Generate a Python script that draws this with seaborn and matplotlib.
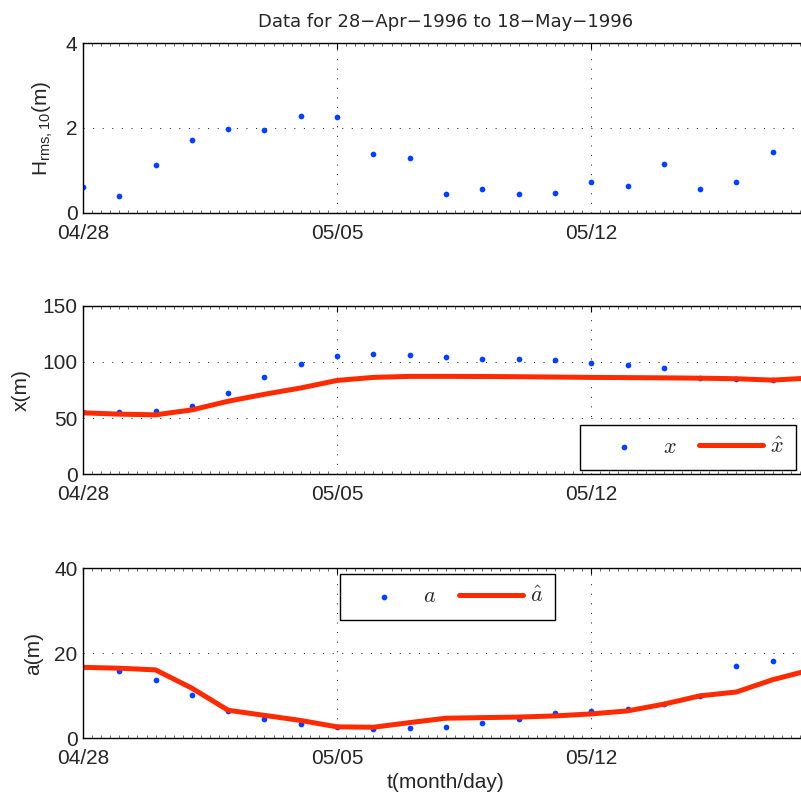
import numpy as np
import pandas as pd
import seaborn as sns
import matplotlib.pyplot as plt
import matplotlib.dates as mdates

# daily samples, 28-Apr-1996 onwards (estimate line runs one day further)
t_obs = pd.date_range('1996-04-28', periods=20, freq='D')
t_est = pd.date_range('1996-04-28', periods=21, freq='D')

hrms = [0.61, 0.39, 1.12, 1.72, 1.98, 1.95, 2.29, 2.25, 1.39, 1.30,
        0.43, 0.57, 0.45, 0.47, 0.72, 0.62, 1.14, 0.56, 0.73, 1.43]

x_obs = [55.0, 55.0, 55.9, 61.2, 72.1, 86.2, 98.3, 105.6, 107.1, 105.9,
         104.5, 103.0, 102.7, 101.5, 99.2, 97.1, 94.2, 85.5, 85.0, 83.8]
x_hat = [54.7, 53.5, 52.9, 57.3, 65.0, 71.2, 76.8, 83.5, 86.2, 87.1,
         87.1, 87.0, 86.8, 86.5, 86.2, 86.0, 85.8, 85.5, 85.0, 83.8, 85.6]

a_obs = [16.7, 15.9, 13.7, 10.1, 6.5, 4.5, 3.4, 2.6, 2.2, 2.35,
         2.67, 3.5, 4.6, 6.0, 6.5, 6.8, 8.0, 10.0, 17.1, 18.1]
a_hat = [16.7, 16.5, 16.1, 11.8, 6.6, 5.4, 4.2, 2.7, 2.6, 3.7,
         4.73, 4.87, 5.0, 5.27, 5.74, 6.45, 8.04, 10.0, 10.9, 13.8, 16.0]

major_days = pd.to_datetime(['1996-04-28', '1996-05-05', '1996-05-12'])
x_limits = (pd.Timestamp('1996-04-28'), pd.Timestamp('1996-05-18'))

blue = '#0040ff'
red = '#ff2a00'

sns.set_style('white')
plt.rcParams['font.family'] = ['Liberation Sans', 'DejaVu Sans']
plt.rcParams['mathtext.fontset'] = 'custom'
plt.rcParams['mathtext.rm'] = 'Liberation Sans'
plt.rcParams['font.size'] = 15

fig = plt.figure(figsize=(8.01, 7.95), dpi=100)
ax1 = fig.add_axes([0.1036, 0.7325, 0.9064, 0.2131])
ax2 = fig.add_axes([0.1036, 0.4034, 0.9064, 0.2121])
ax3 = fig.add_axes([0.1036, 0.0713, 0.9064, 0.2138])


def style_axis(ax, yticks):
    ax.set_xlim(*x_limits)
    ax.set_ylim(yticks[0], yticks[-1])
    ax.set_yticks(yticks)
    ax.set_xticks(major_days)
    ax.xaxis.set_major_formatter(mdates.DateFormatter('%m/%d'))
    ax.xaxis.set_minor_locator(mdates.HourLocator(byhour=[0, 6, 12, 18]))
    ax.tick_params(axis='both', which='major', direction='in', length=4,
                   width=0.8, labelsize=15, top=True, right=True, color='k')
    ax.tick_params(axis='x', which='major', pad=8)
    ax.tick_params(axis='y', which='major', pad=4)
    ax.tick_params(axis='x', which='minor', direction='in', length=2,
                   width=0.6, top=True, bottom=True, color='0.3')
    for s in ax.spines.values():
        s.set_color('k')
        s.set_linewidth(1.0)
    ax.grid(True, which='major', color='0.15', linewidth=0.75,
            linestyle=(0, (1, 8.2)))
    ax.set_xlabel('')


def add_legend(ax, loc, anchor):
    leg = ax.legend(loc=loc, bbox_to_anchor=anchor, ncol=2, fontsize=16,
                    frameon=True, fancybox=False, framealpha=1,
                    edgecolor='k', borderpad=0.55, handlelength=2.88,
                    handletextpad=0.32, columnspacing=1.0,
                    borderaxespad=0)
    leg.get_frame().set_linewidth(1.0)
    for txt in leg.get_texts():
        txt.set_math_fontfamily('cm')


# wave height
sns.scatterplot(x=t_obs, y=hrms, ax=ax1, color=blue, s=17, linewidth=0)
style_axis(ax1, [0, 2, 4])
ax1.set_ylabel(r'H$_{\mathrm{rms,10}}$(m)', fontsize=15, labelpad=8)
ax1.set_title('Data for 28\u2212Apr\u22121996 to 18\u2212May\u22121996',
              fontsize=13, family='DejaVu Sans', pad=11.5)

# bar position
sns.scatterplot(x=t_obs, y=x_obs, ax=ax2, color=blue, s=17, linewidth=0,
                label='$x$')
sns.lineplot(x=t_est, y=x_hat, ax=ax2, color=red, linewidth=3.6,
             label=r'$\hat{x}$')
style_axis(ax2, [0, 50, 100, 150])
ax2.set_ylabel('x(m)', fontsize=15, labelpad=8)
add_legend(ax2, 'lower right', (0.982, 0.0255))

# bar amplitude
sns.scatterplot(x=t_obs, y=a_obs, ax=ax3, color=blue, s=17, linewidth=0,
                label='$a$')
sns.lineplot(x=t_est, y=a_hat, ax=ax3, color=red, linewidth=3.6,
             label=r'$\hat{a}$')
style_axis(ax3, [0, 20, 40])
ax3.set_ylabel('a(m)', fontsize=15, labelpad=8)
ax3.set_xlabel('t(month/day)', fontsize=15, labelpad=3)
add_legend(ax3, 'upper left', (0.354, 0.966))

fig.savefig('out.png', dpi=100)
